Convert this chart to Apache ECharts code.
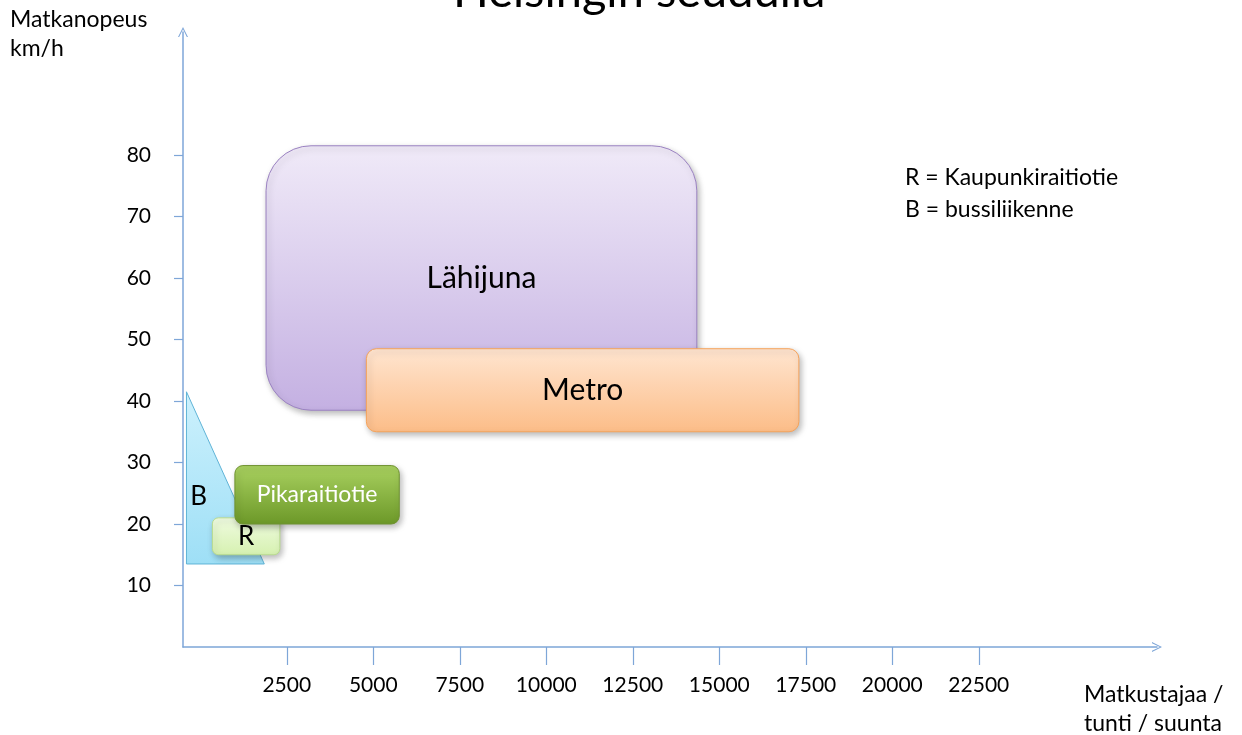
<!DOCTYPE html>
<html>
<head>
<meta charset="utf-8">
<script src="https://cdn.jsdelivr.net/npm/echarts@6/dist/echarts.min.js"></script>
<style>
  html, body { margin: 0; padding: 0; background: #fff; }
  #chart { width: 1242px; height: 735px; }
</style>
</head>
<body>
<div id="chart"></div>
<script>
// data
var shapeNames = ['Lähijuna', 'Metro', 'R', 'Pikaraitiotie']
var capacityFrom = [1900, 4800, 350, 1000]
var capacityTo = [14350, 17300, 2300, 5750]
var speedFrom = [38.5, 35, 15, 20]
var speedTo = [81.5, 48.5, 21, 29.5]

// bus area (B) is a triangle
var busCapacity = [-400, -400, 1850]
var busSpeed = [41.5, 13.5, 13.5]

var xTickValues = [2500, 5000, 7500, 10000, 12500, 15000, 17500, 20000, 22500]
var yTickValues = [10, 20, 30, 40, 50, 60, 70, 80]

var FONT = 'Lato, "Open Sans", sans-serif'
var AXIS_COLOR = '#7ea6d8'
var ARROW = 'path://M0,12 L6,0 L12,12 L10.6,12 L6,2.6 L1.4,12 Z'

var boxStyle = {
  'Lähijuna': { top: '#f0eaf8', bottom: '#c4b0e2', stroke: '#9b82c2', r: 45, text: '#000', size: 30 },
  'Metro': { top: '#ffe5d0', bottom: '#fcbd88', stroke: '#f6a35a', r: 10, text: '#000', size: 30 },
  'R': { top: '#effbe0', bottom: '#d6f1b0', stroke: '#b9dc8e', r: 6, text: '#000', size: 26 },
  'Pikaraitiotie': { top: '#a9d160', bottom: '#6c9828', stroke: '#6f9230', r: 8, text: '#fff', size: 23 }
}

function grad(top, bottom) {
  return new echarts.graphic.LinearGradient(0, 0, 0, 1, [
    { offset: 0, color: top },
    { offset: 1, color: bottom }
  ])
}

function renderBox(params, api) {
  var name = shapeNames[params.dataIndex]
  var st = boxStyle[name]
  var p0 = api.coord([api.value(0), api.value(3)])
  var p1 = api.coord([api.value(1), api.value(2)])
  return {
    type: 'rect',
    shape: { x: p0[0], y: p0[1], width: p1[0] - p0[0], height: p1[1] - p0[1], r: st.r },
    style: {
      fill: grad(st.top, st.bottom),
      stroke: st.stroke,
      lineWidth: 1,
      shadowBlur: 6,
      shadowOffsetX: 2,
      shadowOffsetY: 3,
      shadowColor: 'rgba(0,0,0,0.28)'
    },
    textContent: {
      style: { text: name, fill: st.text, fontSize: st.size, fontFamily: FONT }
    },
    textConfig: { position: 'inside' }
  }
}

function renderBus(params, api) {
  var pts = busCapacity.map(function (x, k) { return api.coord([x, busSpeed[k]]) })
  return {
    type: 'polygon',
    shape: { points: pts },
    style: { fill: grad('#cdf1fd', '#9edff6'), stroke: '#5fb3d6', lineWidth: 1 },
    textContent: {
      style: { text: 'B', fill: '#000', fontSize: 26, fontFamily: FONT, align: 'center', verticalAlign: 'middle' }
    },
    textConfig: { position: ['16%', '61%'] }
  }
}

var chart = echarts.init(document.getElementById('chart'))

chart.setOption({
  animation: false,
  title: {
    text: 'Helsingin seudulla',
    left: 448,
    top: -37,
    textStyle: { fontFamily: FONT, fontSize: 47, fontWeight: 'normal', color: '#000' }
  },
  grid: { left: 183, right: 85, top: 32, bottom: 88 },
  xAxis: {
    type: 'value',
    min: -500,
    max: 27650,
    splitLine: { show: false },
    axisLine: { show: true, onZero: false, symbol: ['none', ARROW], symbolSize: [10, 12], lineStyle: { color: AXIS_COLOR, width: 1.5 } },
    axisTick: { show: true, customValues: xTickValues, length: 18, lineStyle: { color: AXIS_COLOR, width: 1.2 } },
    axisLabel: {
      customValues: xTickValues,
      margin: 28,
      color: '#000',
      fontSize: 21,
      fontFamily: FONT,
      formatter: function (v) { return String(v) }
    }
  },
  yAxis: {
    type: 'value',
    min: 0,
    max: 100,
    splitLine: { show: false },
    axisLine: { show: true, onZero: false, symbol: ['none', ARROW], symbolSize: [10, 12], lineStyle: { color: AXIS_COLOR, width: 1.5 } },
    axisTick: { show: true, customValues: yTickValues, length: 9, lineStyle: { color: AXIS_COLOR, width: 1.2 } },
    axisLabel: { customValues: yTickValues, margin: 32, color: '#000', fontSize: 21, fontFamily: FONT }
  },
  graphic: [
    { type: 'text', left: 10, top: 5, style: { text: 'Matkanopeus\nkm/h', fontSize: 23, lineHeight: 29, fontFamily: FONT, fill: '#000' } },
    { type: 'text', left: 1084, top: 680, style: { text: 'Matkustajaa /\ntunti / suunta', fontSize: 23, lineHeight: 29, fontFamily: FONT, fill: '#000' } },
    { type: 'text', left: 905, top: 162, style: { text: 'R = Kaupunkiraitiotie\nB = bussiliikenne', fontSize: 23, lineHeight: 32, fontFamily: FONT, fill: '#000' } }
  ],
  series: [
    {
      type: 'custom',
      name: 'B',
      renderItem: renderBus,
      data: [[0]],
      silent: true
    },
    {
      type: 'custom',
      name: 'alueet',
      renderItem: renderBox,
      data: shapeNames.map(function (n, i) {
        return [capacityFrom[i], capacityTo[i], speedFrom[i], speedTo[i]]
      }),
      silent: true
    }
  ]
})
</script>
</body>
</html>
